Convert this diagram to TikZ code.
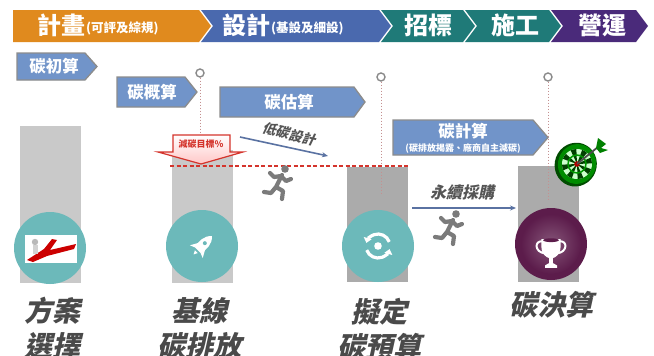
\documentclass[tikz,border=0pt]{standalone}
\usepackage{fontspec}
\usetikzlibrary{arrows.meta,calc}
\newfontfamily\cjk{Noto Sans CJK TC}
\newfontfamily\cjkit{Noto Sans CJK TC}[FakeSlant=0.22]

\definecolor{planorange}{HTML}{E08A1E}
\definecolor{designblue}{HTML}{4A69AE}
\definecolor{tenderteal}{HTML}{1F7A78}
\definecolor{operpurple}{HTML}{4A2A7A}
\definecolor{tagblue}{HTML}{7194C9}
\definecolor{taggray}{HTML}{8C8C8C}
\definecolor{barlight}{HTML}{C9C9C9}
\definecolor{bardark}{HTML}{ABABAB}
\definecolor{stageteal}{HTML}{6CB9BA}
\definecolor{stagepurple}{HTML}{5C1C4B}
\definecolor{labelgray}{HTML}{4A4A4A}
\definecolor{notegray}{HTML}{555555}
\definecolor{pinred}{HTML}{C49090}
\definecolor{pingray}{HTML}{8A8A8A}
\definecolor{cutred}{HTML}{D4342C}
\definecolor{flowblue}{HTML}{5A72A2}
\definecolor{runnergray}{HTML}{7B7B7B}

\tikzset{
  bandtext/.style={text=white, inner sep=0, font=\cjk\bfseries\fontsize{24}{24}\selectfont},
  bandsmall/.style={text=white, inner sep=0, font=\cjk\bfseries\fontsize{12.5}{13}\selectfont},
  tagbox/.style={fill=tagblue, draw=taggray, line width=1.3pt, line join=miter},
  tagtext/.style={text=white, inner sep=0, font=\cjk\bfseries\fontsize{16.5}{17}\selectfont},
  barbox/.style={draw=none, inner sep=0, minimum width=61pt},
  stage/.style={circle, inner sep=0, minimum size=72pt, fill=stageteal},
  stagelabel/.style={text=labelgray, inner sep=0, align=center,
    font=\cjkit\bfseries\fontsize{28}{35}\selectfont},
  pinline/.style={draw=pinred, dotted, line width=1pt},
  pinhead/.style={circle, inner sep=0, minimum size=8pt, draw=pingray, fill=white, line width=1.4pt},
  notetext/.style={text=notegray, inner sep=0, font=\cjkit\bfseries\fontsize{15}{15}\selectfont},
  flowarrow/.style={draw=flowblue, line width=1.6pt, -{Stealth[length=6pt,width=5pt]}},
  runner/.pic={
    \fill[runnergray] (8,-14) circle (3.8);
    \draw[runnergray, line width=4.2pt, line cap=round, line join=round]
      (5,-8) -- (-1,4)
      (4,-7) -- (9,-2) -- (14,-4)
      (4,-7) -- (-3,-6) -- (-7,-10)
      (-1,4) -- (6,8) -- (5,16)
      (-1,4) -- (-6,10) -- (-13,9);
  },
}

\begin{document}
\begin{tikzpicture}[x=1pt,y=-1pt]
\useasboundingbox (0,0) rectangle (654,356);
\fill[white] (0,0) rectangle (654,356);

% ---- phase banner ----
\fill[planorange] (13,10) -- (199,10) -- (211,26) -- (199,42) -- (13,42) -- cycle;
\fill[designblue] (201,10) -- (379,10) -- (391,26) -- (379,42) -- (201,42) -- (213,26) -- cycle;
\fill[tenderteal] (381,10) -- (463,10) -- (475,26) -- (463,42) -- (381,42) -- (393,26) -- cycle;
\fill[tenderteal] (465,10) -- (549,10) -- (561,26) -- (549,42) -- (465,42) -- (477,26) -- cycle;
\fill[operpurple] (551,10) -- (636,10) -- (648,26) -- (636,42) -- (551,42) -- (563,26) -- cycle;

\node[bandtext, anchor=east] (planA) at (86,25) {計畫};
\node[bandsmall, anchor=west] (planB) at (86,28) {(可評及綜規)};
\node[bandtext, anchor=east] (desA) at (271,25) {設計};
\node[bandsmall, anchor=west] (desB) at (271,28) {(基設及細設)};
\node[bandtext] (tender) at (428,25) {招標};
\node[bandtext] (build) at (515,25) {施工};
\node[bandtext] (oper) at (602,25) {營運};

% ---- estimate tags ----
\draw[tagbox] (17,53) -- (85,53) -- (97,66.5) -- (85,80) -- (17,80) -- cycle;
\node[tagtext] (tag1) at (54,66) {碳初算};
\draw[tagbox] (117,77) -- (185,77) -- (197,92) -- (185,107) -- (117,107) -- cycle;
\node[tagtext] (tag2) at (152,92) {碳概算};
\draw[tagbox] (220,87) -- (354,87) -- (365,102) -- (354,117) -- (220,117) -- cycle;
\node[tagtext] (tag3) at (289,102) {碳估算};
\draw[tagbox] (393,120) -- (533,120) -- (548,137.5) -- (533,155) -- (393,155) -- cycle;
\node[tagtext] (tag4) at (463,131) {碳計算};
\node[text=white, inner sep=0, font=\cjk\bfseries\fontsize{9}{9}\selectfont] (tag4sub) at (463,148) {(碳排放揭露、廠商自主減碳)};

% ---- stage bars ----
\node[barbox, fill=barlight, minimum height=157pt, anchor=north] (bar1) at (50,126) {};
\node[barbox, fill=barlight, minimum height=133pt, anchor=north] (bar2) at (202,150) {};
\node[barbox, fill=bardark, minimum height=115pt, anchor=north] (bar3) at (377,167) {};
\node[barbox, fill=bardark, minimum height=116pt, anchor=north] (bar4) at (548,166) {};

% ---- milestone pins ----
\node[pinhead] (pin1) at (200,73) {};
\node[pinhead] (pin2) at (381,77) {};
\node[pinhead] (pin3) at (548,77) {};
\coordinate (pin1end) at (200,135);
\coordinate (pin2end) at (381,195);
\coordinate (pin3end) at (548,200);
\draw[pinline] (pin1.south) -- (pin1end);
\draw[pinline] (pin2.south) -- (pin2end);
\draw[pinline] (pin3.south) -- (pin3end);

% ---- reduction target ----
\shade[top color=white, bottom color=red!22, draw=cutred, line width=1.2pt, line join=miter]
  (173,135) -- (230,135) -- (230,152) -- (243,152) -- (201,164) -- (158,152) -- (173,152) -- cycle;
\node[text=cutred, inner sep=0, font=\cjk\bfseries\fontsize{9}{9}\selectfont] (target) at (201,144) {減碳目標\%};
\coordinate (cutL) at (170,165.5);
\coordinate (cutR) at (408,165.5);
\draw[cutred, line width=2pt, dash pattern=on 4pt off 2.5pt] (cutL) -- (cutR);

% ---- low-carbon design ----
\coordinate (lowS) at (240,137);
\coordinate (lowE) at (328,156);
\draw[flowarrow] (lowS) -- (lowE);
\node[notetext, rotate=-13, font=\cjkit\bfseries\fontsize{13.5}{14}\selectfont] (lowtxt) at (289,134) {低碳設計};
\pic at (277,183) {runner};

% ---- sustainable procurement ----
\coordinate (buyS) at (412,208);
\coordinate (buyE) at (516,208);
\draw[flowarrow] (buyS) -- (buyE);
\node[notetext, font=\cjkit\bfseries\fontsize{16}{16}\selectfont] (buytxt) at (462,192) {永續採購};
\pic at (448,228) {runner};

% ---- stage circles ----
\node[stage] (c1) at (50,248) {};
\node[stage] (c2) at (202,246) {};
\node[stage] (c3) at (378,246) {};
\node[stage, fill=stagepurple] (c4) at (551,244) {};
\shade[inner color=stagepurple!70!white!85!stagepurple, outer color=stagepurple] (c4) circle (30);

% option selection picture
\fill[white] (25,235) rectangle (77,263);
\fill[red!80!black] (27,260) -- (44,249) -- (52,239) -- (57,240) -- (50,250) -- (76,244) -- (74,249) -- (47,256) -- (33,262) -- cycle;
\fill[gray!55] (35,242) circle (3.2);
\fill[gray!35] (33,245) rectangle (38,254);

% rocket
\begin{scope}[shift={(c2.center)}, rotate=-45]
  \fill[white] (0,-14) .. controls (6,-9) and (6,0) .. (4,6) -- (-4,6) .. controls (-6,0) and (-6,-9) .. (0,-14) -- cycle;
  \fill[white] (-4,-1) -- (-9,8) -- (-4,6) -- cycle;
  \fill[white] (4,-1) -- (9,8) -- (4,6) -- cycle;
  \fill[white] (-2,8) -- (2,8) -- (0,12) -- cycle;
  \fill[stageteal] (0,-4) circle (2);
\end{scope}

% sync icon
\begin{scope}[shift={(c3.center)}]
  \draw[white, line width=3.2pt, -{Triangle[length=5pt,width=8pt]}] (-20:12) arc[start angle=-20, end angle=-165, radius=12];
  \draw[white, line width=3.2pt, -{Triangle[length=5pt,width=8pt]}] (160:12) arc[start angle=160, end angle=15, radius=12];
  \fill[white] (0,0) circle (3.8);
\end{scope}

% trophy
\begin{scope}[shift={(551,251)}, scale=1.2]
  \draw[white, line width=2pt] (-7,-8) .. controls (-14,-9) and (-14,1) .. (-5,2);
  \draw[white, line width=2pt] (7,-8) .. controls (14,-9) and (14,1) .. (5,2);
  \fill[white] (-8,-10) -- (8,-10) -- (8,-4) .. controls (8,3) and (4,5) .. (1.5,6) -- (1.5,10) -- (5,12) -- (5,14) -- (-5,14) -- (-5,12) -- (-1.5,10) -- (-1.5,6) .. controls (-4,5) and (-8,3) .. (-8,-4) -- cycle;
  \fill[stagepurple] (0,-9) ellipse[x radius=6.5, y radius=1.6];
\end{scope}

% dartboard
\begin{scope}[shift={(577,164)}, rotate=-20]
  \fill[green!30!black] (-1,1) ellipse[x radius=21, y radius=22];
  \fill[green!55!black] (0,0) ellipse[x radius=19, y radius=20];
  \fill[green!20!white] (0,0) circle (15);
  \foreach \a in {0,45,...,315}
    \fill[green!25!black] (0,0) -- (\a:15) arc[start angle=\a, end angle=\a+22.5, radius=15] -- cycle;
  \draw[green!60!black, line width=1.5pt] (0,0) circle (9);
  \fill[red!70!black] (0,0) circle (2.8);
\end{scope}
\coordinate (dartTip) at (577,164);
\coordinate (dartEnd) at (598,147);
\draw[gray!60!black, line width=1.8pt] (dartTip) -- (dartEnd);
\fill[green!50!black] (596,148) -- (598,138) -- (606,144) -- (601,148) -- (608,150) -- (600,153) -- cycle;

% ---- stage labels ----
\node[stagelabel] (lab1) at (52,328) {方案\\選擇};
\node[stagelabel] (lab2) at (199,328) {基線\\碳排放};
\node[stagelabel] (lab3) at (379,329) {擬定\\碳預算};
\node[stagelabel] (lab4) at (551,305) {碳決算};
\end{tikzpicture}
\end{document}
